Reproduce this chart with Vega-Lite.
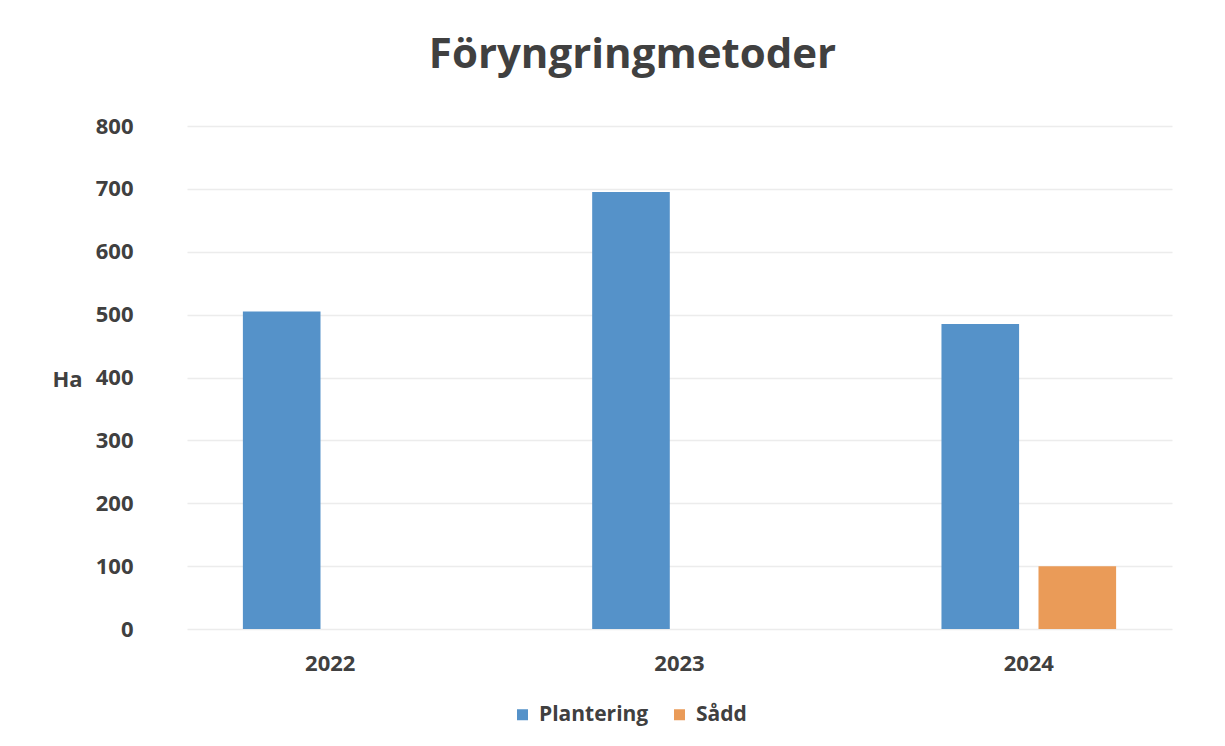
{
  "$schema": "https://vega.github.io/schema/vega-lite/v6.json",
  "autosize": {"type": "none"},
  "width": 985,
  "height": 503,
  "padding": {"left": 187, "top": 126, "right": 53, "bottom": 117},
  "background": "#ffffff",
  "title": {
    "text": "Föryngringmetoder",
    "font": "Open Sans",
    "fontSize": 42,
    "fontWeight": "bold",
    "color": "#404040",
    "anchor": "middle",
    "frame": "group",
    "baseline": "alphabetic",
    "dx": -47,
    "offset": 5
  },
  "data": {
    "values": [
      {"year": "2022", "metod": "Plantering", "ha": 505},
      {"year": "2023", "metod": "Plantering", "ha": 695},
      {"year": "2024", "metod": "Plantering", "ha": 485},
      {"year": "2024", "metod": "Sådd", "ha": 100}
    ]
  },
  "mark": {"type": "bar"},
  "encoding": {
    "x": {
      "field": "year",
      "type": "nominal",
      "scale": {"paddingInner": 0.5, "paddingOuter": 0.16},
      "axis": {
        "title": null,
        "labelAngle": 0,
        "ticks": false,
        "domain": false,
        "labelPadding": 24,
        "labelFont": "Open Sans",
        "labelFontSize": 22,
        "labelFontWeight": "bold",
        "labelColor": "#404040"
      }
    },
    "xOffset": {
      "field": "metod",
      "type": "nominal",
      "scale": {"domain": ["Plantering", "Sådd"], "paddingInner": 0.2, "paddingOuter": 0}
    },
    "y": {
      "field": "ha",
      "type": "quantitative",
      "scale": {"domain": [0, 800], "nice": false},
      "axis": {
        "title": "Ha",
        "titleAngle": 0,
        "titleAlign": "center",
        "titleBaseline": "middle",
        "titleX": -120,
        "titleY": 253,
        "titleFont": "Open Sans",
        "titleFontSize": 22,
        "titleFontWeight": "bold",
        "titleColor": "#404040",
        "values": [0, 100, 200, 300, 400, 500, 600, 700, 800],
        "ticks": false,
        "domain": false,
        "labelPadding": 54,
        "labelFont": "Open Sans",
        "labelFontSize": 22,
        "labelFontWeight": "bold",
        "labelColor": "#404040",
        "grid": true,
        "gridColor": "#ececec",
        "gridWidth": 1.5
      }
    },
    "color": {
      "field": "metod",
      "type": "nominal",
      "scale": {"domain": ["Plantering", "Sådd"], "range": ["#5592c9", "#ea9b58"]},
      "legend": {
        "title": null,
        "orient": "none",
        "direction": "horizontal",
        "legendX": 325,
        "legendY": 578,
        "symbolType": "square",
        "symbolSize": 121,
        "symbolStrokeWidth": 0,
        "labelFont": "Open Sans",
        "labelFontSize": 21,
        "labelFontWeight": "bold",
        "labelColor": "#404040",
        "labelOffset": 6,
        "columnPadding": 20
      }
    }
  },
  "config": {
    "view": {"stroke": null}
  }
}
